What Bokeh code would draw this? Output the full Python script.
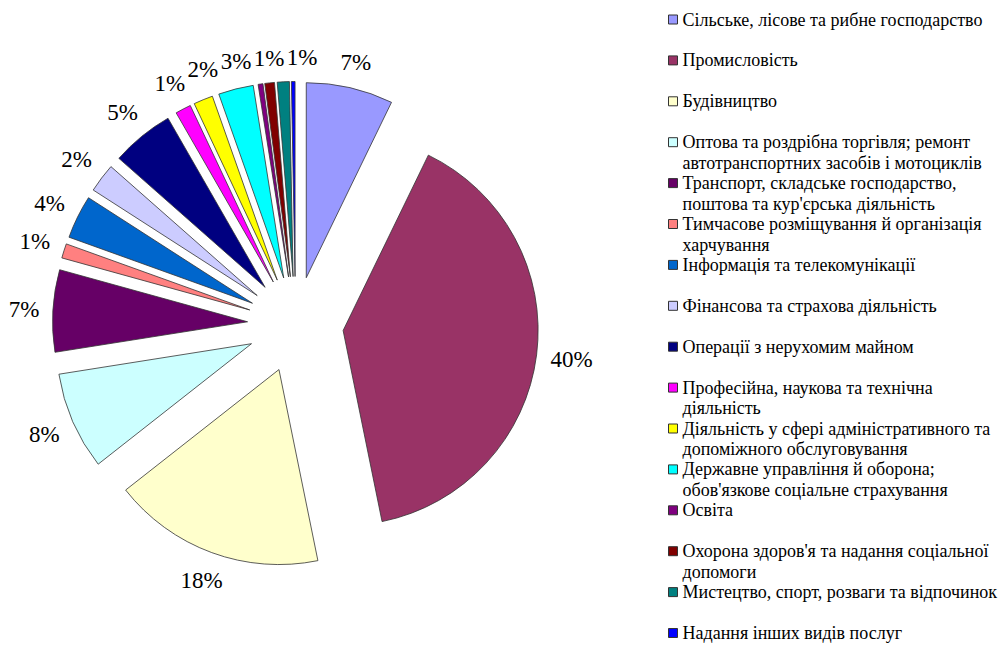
import math
from bokeh.plotting import figure
from bokeh.models import Range1d, ColumnDataSource, InlineStyleSheet
from bokeh.core.properties import value
from bokeh.embed import file_html
from bokeh.resources import INLINE

# ---------------- data ----------------
categories = [
    "Сільське, лісове та рибне господарство",
    "Промисловість",
    "Будівництво",
    "Оптова та роздрібна торгівля; ремонт\nавтотранспортних засобів і  мотоциклів",
    "Транспорт, складське господарство,\nпоштова та кур'єрська діяльність",
    "Тимчасове розміщування й організація\nхарчування",
    "Інформація та телекомунікації",
    "Фінансова та страхова діяльність",
    "Операції з  нерухомим майном",
    "Професійна, наукова та технічна\nдіяльність",
    "Діяльність у сфері адміністративного та\nдопоміжного обслуговування",
    "Державне управління й оборона;\nобов'язкове соціальне страхування",
    "Освіта",
    "Охорона здоров'я та надання соціальної\nдопомоги",
    "Мистецтво, спорт, розваги та відпочинок",
    "Надання інших видів послуг",
]
shares = [7.2, 39.6, 17.6, 8.1, 6.8, 1.2, 3.6, 2.4, 5.2, 1.3, 1.6, 2.9, 0.4, 0.8, 1.0, 0.3]
colors = [
    "#9999FF", "#993366", "#FFFFCC", "#CCFFFF", "#660066", "#FF8080",
    "#0066CC", "#CCCCFF", "#000080", "#FF00FF", "#FFFF00", "#00FFFF",
    "#800080", "#800000", "#008080", "#0000FF",
]

# ---------------- layout ----------------
W, H = 1007, 646
S = 195.0                 # pixels per data unit (pie radius = 1)
CX, CY = 295.0, 324.0     # pie centre in plot pixels (from top-left)
EXPLODE = 48.0 / S
FONT = "Times New Roman"
LABEL_FS = 23
LEG_FS = 18


def P(px, py):
    """plot pixel (from top-left) -> data coords"""
    return ((px - CX) / S, (CY - py) / S)


p = figure(width=W, height=H, output_backend="svg", toolbar_location=None,
           x_range=Range1d(-CX / S, (W - CX) / S),
           y_range=Range1d(-(H - CY) / S, CY / S),
           x_axis_location=None, y_axis_location=None, min_border=0)
p.grid.visible = False
p.outline_line_color = None
p.background_fill_color = "white"
p.stylesheets = [InlineStyleSheet(
    css="text { font-family: 'Times New Roman', 'Liberation Serif', Tinos, serif !important; }")]

total = sum(shares)
xs, ys, st, en = [], [], [], []
mids = []
cum = 0.0
for v in shares:
    t1 = cum / total * 2 * math.pi
    cum += v
    t2 = cum / total * 2 * math.pi
    m = (t1 + t2) / 2
    mids.append(m)
    xs.append(EXPLODE * math.sin(m))
    ys.append(EXPLODE * math.cos(m))
    st.append(math.pi / 2 - t2)
    en.append(math.pi / 2 - t1)

src = ColumnDataSource(dict(x=xs, y=ys, start=st, end=en, color=colors))
p.wedge(x="x", y="y", radius=1.0, start_angle="start", end_angle="end",
        direction="anticlock", fill_color="color", line_color="#333333",
        line_width=0.8, source=src)

# ---------------- percentage labels ----------------
def text_w(s):
    return sum(0.833 if c == "%" else 0.5 for c in s) * LABEL_FS

GAP = 13.0
HH = 10.0
placed = []
lx, ly, lt = [], [], []
for i, v in enumerate(shares):
    r = round(v / total * 100)
    if r == 0:
        continue
    s = f"{r}%"
    m = mids[i]
    w = text_w(s) / 2
    dist = S + GAP + abs(math.sin(m)) * w + abs(math.cos(m)) * HH
    ecx = CX + EXPLODE * S * math.sin(m)
    ecy = CY - EXPLODE * S * math.cos(m)
    px = ecx + dist * math.sin(m)
    py = ecy - dist * math.cos(m)
    tx, ty = math.cos(m), math.sin(m)
    for _ in range(200):
        ok = True
        for (qx, qy, qw) in placed:
            if abs(px - qx) < (w + qw + 2) and abs(py - qy) < 2 * HH:
                ok = False
                break
        if ok:
            break
        px += tx
        py += ty
    placed.append((px, py, w))
    dx, dy = P(px, py)
    lx.append(dx)
    ly.append(dy)
    lt.append(s)

p.text(x=lx, y=ly, text=lt, text_font=value(FONT), text_font_size=f"{LABEL_FS}px",
       text_align="center", text_baseline="middle", text_color="black")

# ---------------- legend ----------------
ROW0, ROWSTEP, LINESTEP = 19.0, 40.9, 20.5
SQ_X, TXT_X = 672.5, 682.0
sqx, sqy, tx_, ty_, tt = [], [], [], [], []
for i, name in enumerate(categories):
    yy = ROW0 + i * ROWSTEP
    a, b = P(SQ_X, yy)
    sqx.append(a)
    sqy.append(b)
    for k, line in enumerate(name.split("\n")):
        a, b = P(TXT_X, yy + k * LINESTEP)
        tx_.append(a)
        ty_.append(b)
        tt.append(line)

p.rect(x=sqx, y=sqy, width=9, height=9, width_units="screen", height_units="screen",
       fill_color=colors, line_color="#333333", line_width=1)
p.text(x=tx_, y=ty_, text=tt, text_font=value(FONT), text_font_size=f"{LEG_FS}px",
       text_align="left", text_baseline="middle", text_color="black")

open("out.html", "w").write(file_html(p, INLINE))
